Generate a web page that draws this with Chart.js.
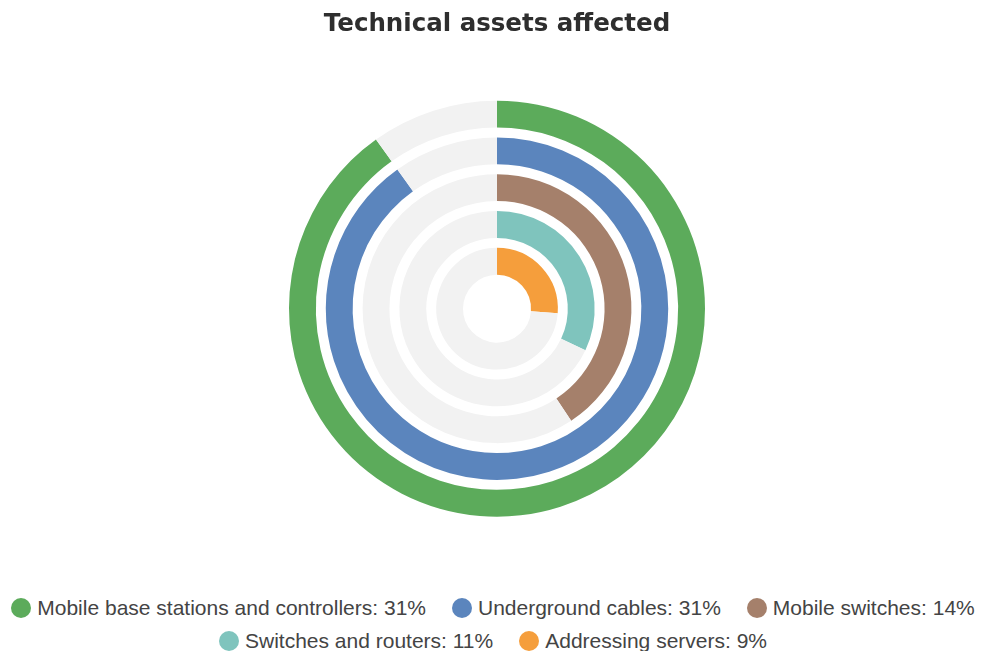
<!DOCTYPE html>
<html>
<head>
<meta charset="utf-8">
<script src="https://cdn.jsdelivr.net/npm/chart.js@4"></script>
<style>
  html, body { margin: 0; padding: 0; background: #fff; }
  #wrap { position: relative; width: 982px; height: 651px; }
  #box { position: absolute; left: 0; top: 0; width: 982px; height: 571px; }
  #legenda {
    position: absolute; left: 4px; top: 591px; width: 978px;
    display: flex; flex-wrap: wrap; justify-content: center; column-gap: 26px;
    font-family: "Liberation Sans", Arial, sans-serif; font-size: 21px;
    line-height: 33px; color: #444;
  }
  .item { display: flex; align-items: center; white-space: nowrap; }
  .bola { width: 20px; height: 20px; border-radius: 50%; margin-right: 6px; }
</style>
</head>
<body>
<div id="wrap">
  <div id="box"><canvas id="grafico"></canvas></div>
  <div id="legenda"></div>
</div>
<script>
// Categorias e valores (percentual de ativos afetados)
const categorias = ['Mobile base stations and controllers', 'Underground cables', 'Mobile switches', 'Switches and routers', 'Addressing servers'];
const valores = [31, 31, 14, 11, 9];
const cores = ['#5cab5b', '#5b85bd', '#a5806b', '#7fc4bd', '#f59e3c'];
const escalaMax = 34.4; // valor que fecha a volta completa
const corTrilho = '#f2f2f2';

// Um anel por categoria, com um anel vazio entre eles para dar o espaço branco
const datasets = [];
categorias.forEach((nome, i) => {
    if (i > 0) {
        datasets.push({
            label: 'espaco',
            data: [1],
            backgroundColor: ['rgba(0,0,0,0)'],
            borderWidth: 0,
            weight: 10
        });
    }
    datasets.push({
        label: nome,
        data: [valores[i], escalaMax - valores[i]],
        backgroundColor: [cores[i], corTrilho],
        borderWidth: 0,
        weight: 27
    });
});

const canvas = document.getElementById('grafico');
const grafico = new Chart(canvas, {
    type: 'doughnut',
    data: { labels: ['valor', 'resto'], datasets: datasets },
    options: {
        responsive: true,
        maintainAspectRatio: false,
        animation: false,
        radius: 208,
        cutout: '16.35%',
        layout: { padding: { left: 12 } },
        events: [],
        plugins: {
            legend: { display: false },
            tooltip: { enabled: false },
            title: {
                display: true,
                text: 'Technical assets affected',
                color: '#2e2e2e',
                font: { family: '"DejaVu Sans", Arial, sans-serif', size: 24.5, weight: 'bold', lineHeight: 1.2 },
                padding: { top: 10, bottom: 7 }
            }
        }
    }
});

// Legenda em HTML, montada a partir dos mesmos arrays
const legenda = document.getElementById('legenda');
categorias.forEach((nome, i) => {
    const item = document.createElement('div');
    item.className = 'item';
    const bola = document.createElement('span');
    bola.className = 'bola';
    bola.style.background = cores[i];
    const texto = document.createElement('span');
    texto.textContent = nome + ': ' + valores[i] + '%';
    item.appendChild(bola);
    item.appendChild(texto);
    legenda.appendChild(item);
});
</script>
</body>
</html>
